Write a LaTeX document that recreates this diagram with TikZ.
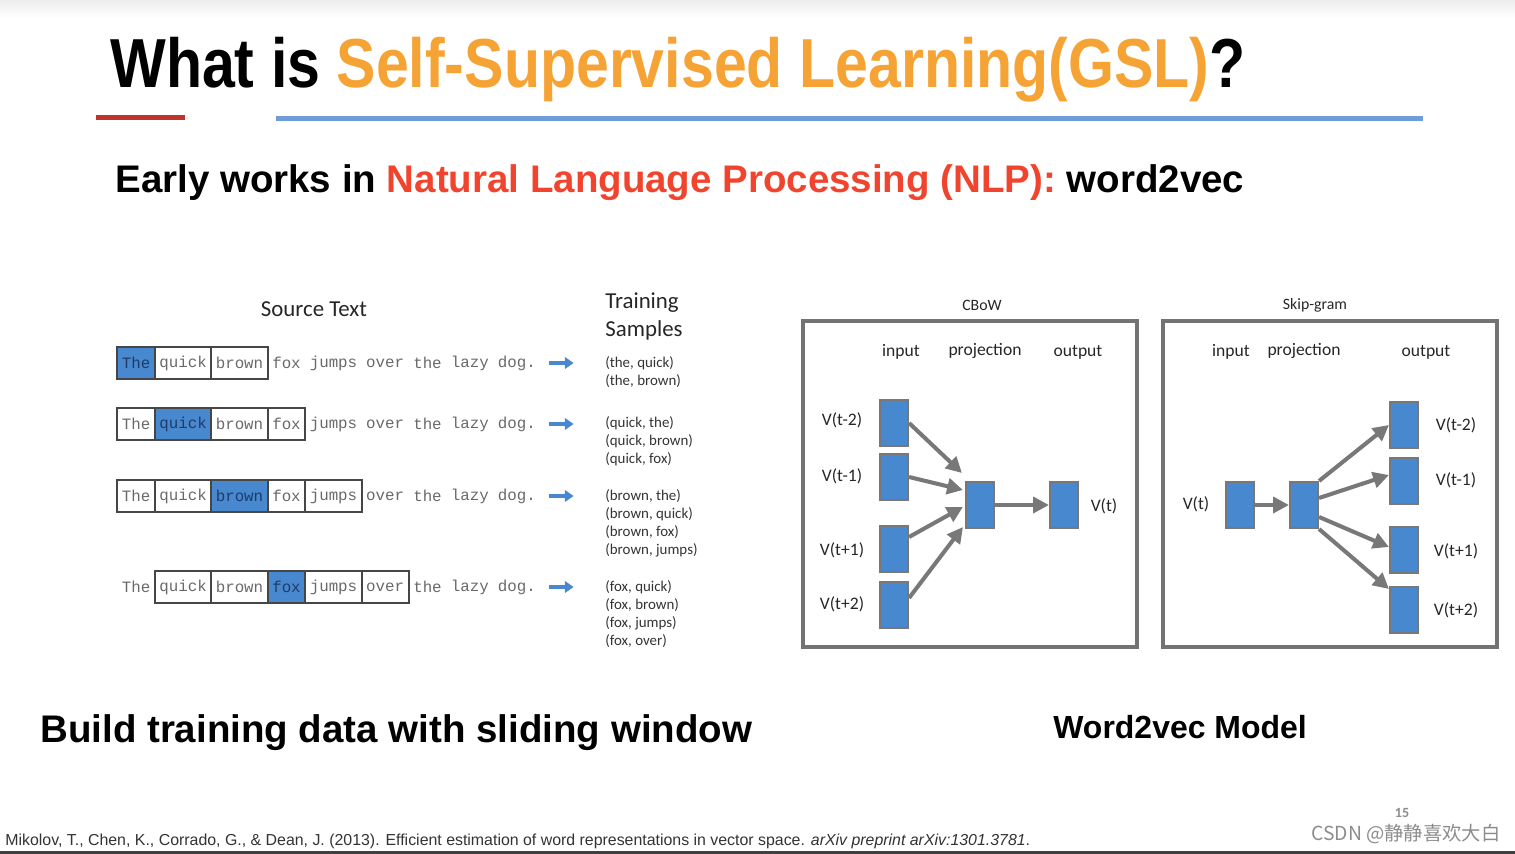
\documentclass[tikz,border=0pt]{standalone}
\usepackage{fontspec}
\setmainfont{Liberation Sans}
\setmonofont{Liberation Mono}
\newfontfamily\calfont{Carlito}
\newfontfamily\cjkfont{Noto Sans CJK SC}
\usetikzlibrary{arrows.meta}
\definecolor{titleorange}{RGB}{246,163,54}
\definecolor{nlpred}{RGB}{240,68,46}
\definecolor{barred}{RGB}{190,52,42}
\definecolor{barblue}{RGB}{112,157,216}
\definecolor{vecblue}{RGB}{72,136,206}
\definecolor{cellgrey}{RGB}{70,70,70}
\definecolor{monogrey}{RGB}{105,105,105}
\definecolor{hitext}{RGB}{30,60,105}
\definecolor{arrowgrey}{RGB}{120,120,120}
\definecolor{panelgrey}{RGB}{115,115,115}
\definecolor{markgrey}{RGB}{140,140,140}
\tikzset{
  word/.style={inner sep=0pt, minimum height=0.64cm, text=monogrey,
    font=\ttfamily\fontsize{9}{10}\selectfont},
  boxword/.style={word, draw=cellgrey, line width=1.1pt},
  hiword/.style={boxword, fill=vecblue, text=hitext},
  pairlist/.style={anchor=north west, inner sep=0pt, align=left, text=black!80,
    font=\calfont\fontsize{8.5}{10.2}\selectfont},
  sendarrow/.style={-{Triangle[length=5pt,width=6.5pt]}, draw=vecblue, line width=2.4pt},
  vecbox/.style={draw=arrowgrey, fill=vecblue, line width=1.2pt, inner sep=0pt,
    minimum width=0.56cm, minimum height=0.92cm},
  flow/.style={-{Triangle[length=9pt,width=9pt]}, draw=arrowgrey, line width=2.3pt},
  panel/.style={draw=panelgrey, line width=1.8pt},
  lbl/.style={inner sep=0pt, text=black!85, font=\calfont\fontsize{10}{12}\selectfont},
  heading/.style={anchor=base west, inner sep=0pt, font=\bfseries\fontsize{21.9}{26}\selectfont},
}
% one line of the sliding window: name, y, first boxed, last boxed, centre word
\newcommand{\wordrow}[5]{%
  \foreach \w/\s/\n [count=\i from 0] in {The/0/3,quick/4/5,brown/10/5,fox/16/3,jumps/20/5,over/26/4,the/31/3,lazy/35/4,dog./40/4}{%
    \ifnum\i=#5 \def\sty{hiword}%
    \else\ifnum\i<#3 \def\sty{word}%
    \else\ifnum\i>#4 \def\sty{word}%
    \else\def\sty{boxword}\fi\fi\fi
    \node[\sty, minimum width={(\n+1)*0.188cm}] (#1-\i) at ({122+9.4*\s+4.7*\n}, #2) {\w};
  }%
}
\begin{document}
\begin{tikzpicture}[x=0.02cm, y=-0.02cm]
\useasboundingbox (0,0) rectangle (1515,854);
\shade[top color=black!7, bottom color=white] (0,0) rectangle (1515,18);
\fill[black!75] (0,851) rectangle (1515,854);

% title
\node[anchor=west, inner sep=0pt] (title) at (110,70)
  {\resizebox*{22.7cm}{1.3cm}{\bfseries What is \textcolor{titleorange}{Self-Supervised Learning(GSL)}?}};
\fill[barred] (96,115) rectangle (185,120);
\fill[barblue] (276,116) rectangle (1423,121);
\node[heading] (sub) at (115,193)
  {Early works in \textcolor{nlpred}{Natural Language Processing (NLP):} word2vec};

% sliding window
\node[inner sep=0pt, font=\calfont\fontsize{13}{15}\selectfont, text=black!85] (src) at (314,309) {Source Text};
\node[inner sep=0pt, anchor=north west, align=left, text=black!85,
  font=\calfont\fontsize{13}{16}\selectfont] (train) at (605,292) {Training\\Samples};

\wordrow{r1}{363}{0}{2}{0}
\wordrow{r2}{424}{0}{3}{1}
\wordrow{r3}{496}{0}{4}{2}
\wordrow{r4}{587}{1}{5}{3}

\draw[sendarrow] ([xshift=0.16cm]r1-8.east) -- ++(0.5cm,0);
\draw[sendarrow] ([xshift=0.16cm]r2-8.east) -- ++(0.5cm,0);
\draw[sendarrow] ([xshift=0.16cm]r3-8.east) -- ++(0.5cm,0);
\draw[sendarrow] ([xshift=0.16cm]r4-8.east) -- ++(0.5cm,0);

\node[pairlist] (s1) at (605,356) {(the, quick)\\(the, brown)};
\node[pairlist] (s2) at (605,416) {(quick, the)\\(quick, brown)\\(quick, fox)};
\node[pairlist] (s3) at (605,489) {(brown, the)\\(brown, quick)\\(brown, fox)\\(brown, jumps)};
\node[pairlist] (s4) at (605,580) {(fox, quick)\\(fox, brown)\\(fox, jumps)\\(fox, over)};

% CBoW
\node[lbl, font=\calfont\fontsize{9}{11}\selectfont] (cbow) at (982,305) {CBoW};
\draw[panel] (803,321) rectangle (1137,647);
\node[lbl] (cin) at (901,352) {input};
\node[lbl] (cproj) at (985,351) {projection};
\node[lbl] (cout) at (1078,352) {output};
\node[vecbox] (in1) at (894,423) {};
\node[vecbox] (in2) at (894,477) {};
\node[vecbox] (in3) at (894,549) {};
\node[vecbox] (in4) at (894,605) {};
\node[vecbox] (proj) at (980,505) {};
\node[vecbox] (vt) at (1064,505) {};
\node[lbl] (l1) at (842,420) {V(t-2)};
\node[lbl] (l2) at (842,476) {V(t-1)};
\node[lbl] (l3) at (842,550) {V(t+1)};
\node[lbl] (l4) at (842,604) {V(t+2)};
\node[lbl] (l5) at (1104,506) {V(t)};
\draw[flow] (in1.east) -- ([xshift=-0.06cm, yshift=0.64cm]proj.west);
\draw[flow] (in2.east) -- ([xshift=-0.04cm, yshift=0.3cm]proj.west);
\draw[flow] ([yshift=0.24cm]in3.east) -- ([xshift=-0.04cm, yshift=-0.04cm]proj.west);
\draw[flow] ([yshift=0.14cm]in4.east) -- ([xshift=-0.04cm, yshift=-0.44cm]proj.west);
\draw[flow] (proj.east) -- (vt.west);

% Skip-gram
\node[lbl, font=\calfont\fontsize{9}{11}\selectfont] (skip) at (1315,305) {Skip-gram};
\draw[panel] (1163,321) rectangle (1497,647);
\node[lbl] (sin) at (1231,352) {input};
\node[lbl] (sproj) at (1304,351) {projection};
\node[lbl] (sout) at (1426,352) {output};
\node[vecbox] (wt) at (1240,505) {};
\node[vecbox] (hid) at (1304,505) {};
\node[vecbox] (o1) at (1404,425) {};
\node[vecbox] (o2) at (1404,481) {};
\node[vecbox] (o3) at (1404,550) {};
\node[vecbox] (o4) at (1404,610) {};
\node[lbl] (m0) at (1196,504) {V(t)};
\node[lbl] (m1) at (1456,425) {V(t-2)};
\node[lbl] (m2) at (1456,480) {V(t-1)};
\node[lbl] (m3) at (1456,551) {V(t+1)};
\node[lbl] (m4) at (1456,610) {V(t+2)};
\draw[flow] (wt.east) -- (hid.west);
\draw[flow] (hid.north east) -- (o1.west);
\draw[flow] ([yshift=0.14cm]hid.east) -- ([yshift=0.12cm]o2.west);
\draw[flow] ([yshift=-0.24cm]hid.east) -- ([yshift=0.06cm]o3.west);
\draw[flow] (hid.south east) -- ([yshift=0.42cm]o4.west);

% captions
\node[heading] (cap1) at (40,742) {Build training data with sliding window};
\node[heading, font=\bfseries\fontsize{18.2}{22}\selectfont] (cap2) at (1053,738) {Word2vec Model};

% footer
\node[anchor=base west, inner sep=0pt, text=black!80] (ref) at (5,845)
  {\resizebox{20.5cm}{!}{Mikolov, T., Chen, K., Corrado, G., \& Dean, J. (2013). Efficient estimation of word representations in vector space. \textit{arXiv preprint arXiv:1301.3781}.}};
\node[inner sep=0pt, text=markgrey, font=\calfont\bfseries\fontsize{8}{10}\selectfont] (page) at (1402,813) {15};
\node[inner sep=0pt, text=markgrey, font=\cjkfont\fontsize{11}{13}\selectfont] (mark) at (1406,834) {CSDN @静静喜欢大白};
\end{tikzpicture}
\end{document}
